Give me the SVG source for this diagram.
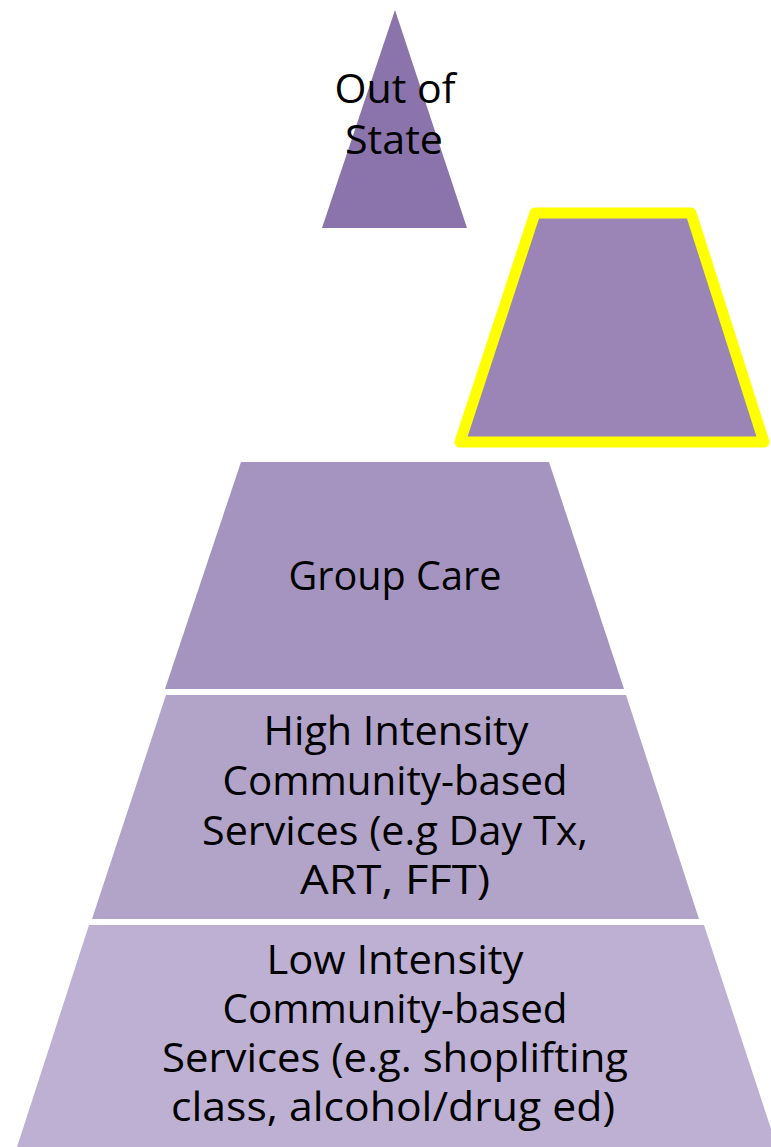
<svg xmlns="http://www.w3.org/2000/svg" width="771" height="1147" viewBox="0 0 771 1147">
<style>
.t{font-family:"Open Sans","Liberation Sans",sans-serif;font-size:40px;fill:#000;text-anchor:middle}
</style>
<rect width="771" height="1147" fill="#fff"/>
<g id="out-of-state">
<polygon points="395,10 467,228 322,228" fill="#8B74AB"/>
<text class="t" x="395" y="103" textLength="121" lengthAdjust="spacingAndGlyphs">Out of</text>
<text class="t" x="394" y="154" textLength="98" lengthAdjust="spacingAndGlyphs">State</text>
</g>
<g id="highlighted-tier">
<polygon points="535,213 691,213 764,442 460,442" fill="#9A85B6" stroke="#FFFF00" stroke-width="11" stroke-linejoin="round"/>
</g>
<g id="group-care">
<polygon points="241,462 549,462 624,689 165,689" fill="#A594BF"/>
<text class="t" x="395" y="590" textLength="213" lengthAdjust="spacingAndGlyphs">Group Care</text>
</g>
<g id="high-intensity">
<polygon points="166,695 626,695 699,919 92,919" fill="#B2A3C9"/>
<text class="t" x="396" y="745" textLength="265" lengthAdjust="spacingAndGlyphs">High Intensity</text>
<text class="t" x="395" y="795" textLength="345" lengthAdjust="spacingAndGlyphs">Community-based</text>
<text class="t" x="395" y="845" textLength="386" lengthAdjust="spacingAndGlyphs">Services (e.g Day Tx,</text>
<text class="t" x="395" y="894" textLength="190" lengthAdjust="spacingAndGlyphs">ART, FFT)</text>
</g>
<g id="low-intensity">
<polygon points="89,925 704,925 777,1147 17,1147" fill="#BDB0D3"/>
<text class="t" x="395" y="974" textLength="257" lengthAdjust="spacingAndGlyphs">Low Intensity</text>
<text class="t" x="395" y="1023" textLength="345" lengthAdjust="spacingAndGlyphs">Community-based</text>
<text class="t" x="395" y="1072" textLength="466" lengthAdjust="spacingAndGlyphs">Services (e.g. shoplifting</text>
<text class="t" x="393" y="1121" textLength="444" lengthAdjust="spacingAndGlyphs">class, alcohol/drug ed)</text>
</g>
<g id="connectors"></g>
</svg>
